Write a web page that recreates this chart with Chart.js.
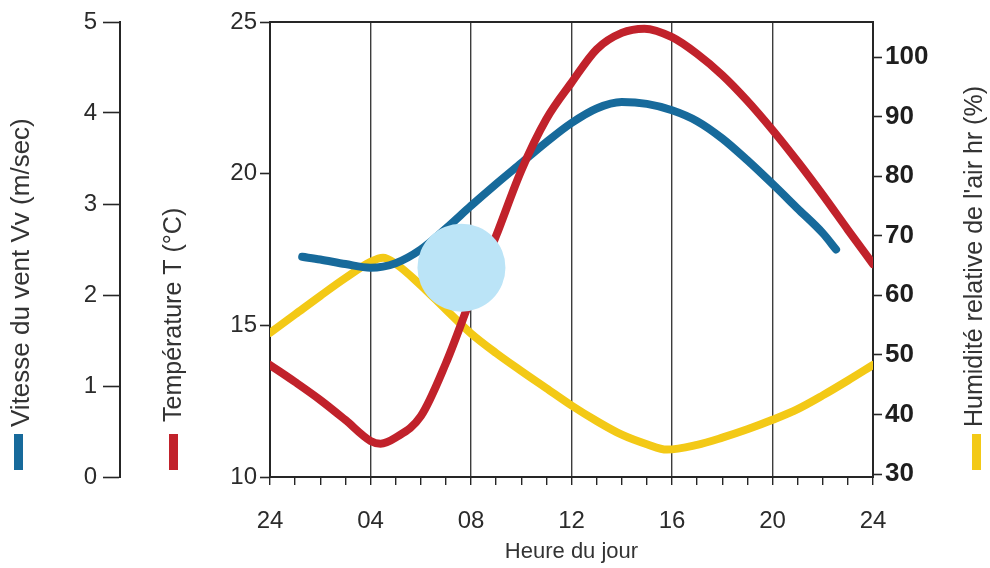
<!DOCTYPE html>
<html><head><meta charset="utf-8">
<script src="https://cdn.jsdelivr.net/npm/chart.js@4.4.1/dist/chart.umd.min.js"></script>
<style>html,body{margin:0;padding:0;background:#fff}canvas{display:block}</style>
</head><body>
<canvas id="c" width="990" height="568"></canvas>
<script>
// ---- axis ticks / labels ----
const xMinorHours = [0,1,2,3,4,5,6,7,8,9,10,11,12,13,14,15,16,17,18,19,20,21,22,23,24];
const xTickHours  = [0,4,8,12,16,20,24];
const xTickLabels = ['24','04','08','12','16','20','24'];
const tempTicks = [10,15,20,25];
const windTicks = [0,1,2,3,4,5];
const humTicks  = [30,40,50,60,70,80,90,100];

// ---- series (hour of day) ----
const tempHours  = [0,1,2,3,4,4.4,5,6,7,8,9,10,11,12,13,14,14.9,16,17,18,19,20,21,22,23,24];
const tempValues = [13.69,13.13,12.54,11.88,11.19,11.1,11.3,12.0,13.75,15.9,17.95,20.1,21.8,23.0,24.1,24.64,24.78,24.5,23.95,23.25,22.4,21.44,20.4,19.3,18.15,17.02];

const humHours  = [0,1,2,3,4,4.5,5,6,7,8,9,10,11,12,13,14,15,15.8,17,18,19,20,21,22,23,24];
const humValues = [53.7,56.8,59.9,62.9,65.6,66.3,65.3,61.7,57.6,53.6,50.3,47.3,44.4,41.5,38.9,36.6,35.0,34.1,34.9,36.1,37.5,39.1,40.9,43.2,45.7,48.3];

const windHours  = [1.28,2,3,4,5,6,7,8,9,10,11,12,13,14,15,16,17,18,19,20,21,22,22.53];
const windValues = [2.42,2.39,2.34,2.30,2.35,2.50,2.73,2.98,3.22,3.45,3.68,3.89,4.05,4.12,4.10,4.03,3.91,3.72,3.48,3.22,2.95,2.68,2.50];

const sunHour = [7.62];
const sunTemp = [16.9];

const windTitle = 'Vitesse du vent Vv (m/sec)';
const tempTitle = 'Température T (°C)';
const humTitle  = "Humidité relative de l'air hr (%)";
const xTitle    = 'Heure du jour';

const FONT = '"Liberation Sans", Arial, Helvetica, sans-serif';
const RED = '#c1222b', BLUE = '#176a9b', YELLOW = '#f3c916', SUN = '#bbe4f7';
const AXIS = '#262626', TXT = '#2b2b2b';

const pts = (xs, ys) => xs.map((x, i) => ({x, y: ys[i]}));
const setTicks = arr => scale => { scale.ticks = arr.map(v => ({value: v})); };

const decor = {
  id: 'decor',
  beforeDatasetsDraw(chart) {
    const {ctx, chartArea: a} = chart;
    ctx.save();
    ctx.strokeStyle = AXIS; ctx.lineWidth = 2;
    ctx.beginPath(); ctx.moveTo(a.left - 1, a.top); ctx.lineTo(a.right + 1, a.top); ctx.stroke();
    ctx.restore();
  },
  afterDraw(chart) {
    const ctx = chart.ctx;
    const vt = (text, cx, yStart, size, color, mx, mw) => {
      ctx.save();
      ctx.translate(cx, yStart); ctx.rotate(-Math.PI / 2);
      ctx.font = size + 'px ' + FONT; ctx.fillStyle = '#333';
      ctx.textAlign = 'left'; ctx.textBaseline = 'middle';
      ctx.fillText(text, 0, 0);
      ctx.restore();
      ctx.fillStyle = color;
      ctx.fillRect(mx, 434, mw, 36);
    };
    vt(windTitle, 22, 427, 26, BLUE, 14, 9);
    vt(tempTitle, 174, 422, 25, RED, 169, 9);
    vt(humTitle, 975, 427, 25, YELLOW, 972, 9);
  }
};

const lineDs = (label, xs, ys, axis, color) => ({
  label, data: pts(xs, ys), yAxisID: axis, borderColor: color, borderWidth: 8,
  pointRadius: 0, cubicInterpolationMode: 'monotone', borderCapStyle: 'round', borderJoinStyle: 'round'
});

new Chart(document.getElementById('c'), {
  type: 'line',
  data: {
    datasets: [
      {label: 'soleil', data: pts(sunHour, sunTemp), yAxisID: 'yTemp', showLine: false,
       pointRadius: 44, pointBackgroundColor: SUN, pointBorderWidth: 0, pointHoverRadius: 44},
      lineDs('Température', tempHours, tempValues, 'yTemp', RED),
      lineDs('Vent', windHours, windValues, 'yWind', BLUE),
      lineDs('Humidité', humHours, humValues, 'yHum', YELLOW)
    ]
  },
  options: {
    responsive: false, animation: false, devicePixelRatio: 1,
    layout: {autoPadding: false, padding: {top: 22, left: 0, right: 0, bottom: 0}},
    plugins: {legend: {display: false}, tooltip: {enabled: false}},
    scales: {
      x: {
        type: 'linear', position: 'bottom', min: 0, max: 24,
        afterBuildTicks: setTicks(xMinorHours),
        afterFit: s => { s.height = 91; },
        grid: {
          color: c => (c.tick && xTickHours.includes(c.tick.value)) ? '#3c3c3c' : 'rgba(0,0,0,0)',
          lineWidth: 1.4, tickColor: AXIS, tickLength: 8, tickWidth: 1.4
        },
        border: {display: true, color: AXIS, width: 2},
        ticks: {
          autoSkip: false, maxRotation: 0, padding: 22, color: TXT,
          font: {family: FONT, size: 24},
          callback: v => { const i = xTickHours.indexOf(v); return i >= 0 ? xTickLabels[i] : ''; }
        },
        title: {display: true, text: xTitle, color: '#333', font: {family: FONT, size: 22}, padding: {top: 0, bottom: 3}}
      },
      yWind: {
        type: 'linear', position: 'left', weight: 10, min: 0, max: 5,
        afterBuildTicks: setTicks(windTicks),
        afterFit: s => { s.width = 120; },
        grid: {drawOnChartArea: false, tickColor: AXIS, tickLength: 17, tickWidth: 1.6},
        border: {display: true, color: AXIS, width: 2},
        ticks: {padding: 6, color: TXT, font: {family: FONT, size: 24}}
      },
      yTemp: {
        type: 'linear', position: 'left', weight: 0, min: 10, max: 25,
        afterBuildTicks: setTicks(tempTicks),
        afterFit: s => { s.width = 150; },
        grid: {drawOnChartArea: false, tickColor: AXIS, tickLength: 10, tickWidth: 1.6},
        border: {display: true, color: AXIS, width: 2},
        ticks: {padding: 3, color: TXT, font: {family: FONT, size: 24}}
      },
      yHum: {
        type: 'linear', position: 'right', min: 29.5, max: 105.88,
        afterBuildTicks: setTicks(humTicks),
        afterFit: s => { s.width = 117; },
        grid: {drawOnChartArea: false, tickColor: AXIS, tickLength: 9, tickWidth: 1.6},
        border: {display: true, color: AXIS, width: 2},
        ticks: {padding: 3, color: '#1e1e1e', font: {family: FONT, size: 26, weight: 'bold'}}
      }
    }
  },
  plugins: [decor]
});
</script>
</body></html>
